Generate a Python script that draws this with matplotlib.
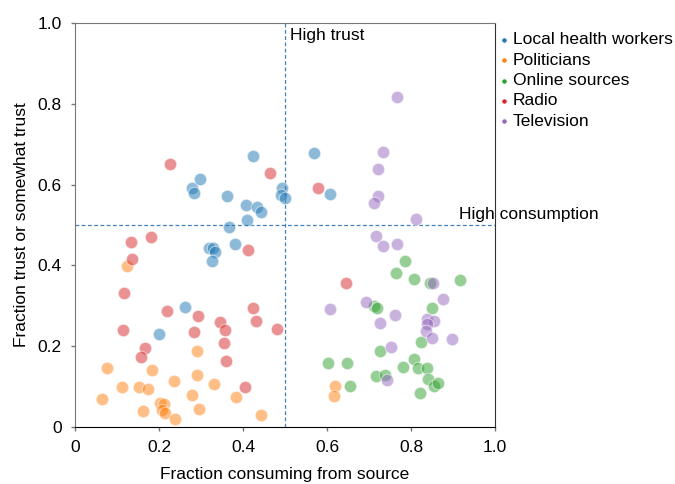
import matplotlib
matplotlib.use("Agg")
import matplotlib.pyplot as plt

plt.rcParams['font.family'] = ['Liberation Sans', 'DejaVu Sans']

categories = ["Local health workers", "Politicians", "Online sources", "Radio", "Television"]
colors = ["#1f77b4", "#ff7f0e", "#2ca02c", "#d62728", "#9467bd"]

health_x = [0.278, 0.284, 0.298, 0.363, 0.367, 0.380, 0.319, 0.328, 0.334, 0.326, 0.423,
            0.570, 0.492, 0.490, 0.500, 0.608, 0.407, 0.434, 0.442, 0.409, 0.261, 0.200]
health_y = [0.591, 0.578, 0.614, 0.572, 0.494, 0.452, 0.444, 0.443, 0.434, 0.412, 0.672,
            0.678, 0.591, 0.574, 0.568, 0.576, 0.550, 0.544, 0.532, 0.513, 0.298, 0.229]

pol_x = [0.124, 0.077, 0.183, 0.291, 0.111, 0.152, 0.174, 0.235, 0.291, 0.330, 0.064, 0.278,
         0.383, 0.202, 0.212, 0.207, 0.215, 0.162, 0.296, 0.239, 0.443, 0.619, 0.617]
pol_y = [0.398, 0.145, 0.141, 0.188, 0.100, 0.100, 0.094, 0.115, 0.128, 0.106, 0.069, 0.079,
         0.073, 0.060, 0.058, 0.042, 0.034, 0.040, 0.044, 0.020, 0.030, 0.101, 0.076]

online_x = [0.786, 0.765, 0.808, 0.846, 0.917, 0.712, 0.719, 0.850, 0.824, 0.727, 0.603, 0.648,
            0.806, 0.781, 0.817, 0.839, 0.716, 0.737, 0.840, 0.856, 0.865, 0.654, 0.821]
online_y = [0.412, 0.382, 0.367, 0.356, 0.364, 0.300, 0.295, 0.294, 0.210, 0.189, 0.159, 0.158,
            0.168, 0.148, 0.145, 0.147, 0.125, 0.129, 0.119, 0.102, 0.109, 0.102, 0.084]

radio_x = [0.226, 0.133, 0.180, 0.135, 0.465, 0.578, 0.411, 0.117, 0.219, 0.294, 0.345, 0.356,
           0.115, 0.284, 0.166, 0.157, 0.355, 0.360, 0.423, 0.432, 0.480, 0.405, 0.645]
radio_y = [0.650, 0.459, 0.471, 0.417, 0.629, 0.592, 0.438, 0.331, 0.288, 0.274, 0.259, 0.241,
           0.241, 0.234, 0.196, 0.174, 0.207, 0.164, 0.295, 0.262, 0.242, 0.100, 0.356]

tv_x = [0.767, 0.733, 0.722, 0.722, 0.711, 0.812, 0.716, 0.733, 0.767, 0.853, 0.877, 0.692,
        0.606, 0.763, 0.727, 0.839, 0.855, 0.838, 0.835, 0.851, 0.897, 0.752, 0.743]
tv_y = [0.816, 0.681, 0.639, 0.572, 0.555, 0.516, 0.472, 0.449, 0.454, 0.356, 0.318, 0.310,
        0.293, 0.276, 0.258, 0.267, 0.262, 0.256, 0.238, 0.221, 0.219, 0.197, 0.116]

series = [(health_x, health_y), (pol_x, pol_y), (online_x, online_y), (radio_x, radio_y), (tv_x, tv_y)]

FS = 12.5

fig = plt.figure(figsize=(6.75, 4.84), dpi=100)
ax = fig.add_axes([0.1111, 0.1178, 0.6222, 0.8347])

for (xs, ys), name, c in zip(series, categories, colors):
    ax.scatter(xs, ys, s=80, color=c, alpha=0.5, edgecolors='white', linewidths=0.8,
               label=name, zorder=3)

ax.axvline(0.5, color='#3f80bd', linestyle=(0, (3, 2)), linewidth=0.9, zorder=2)
ax.axhline(0.5, color='#3f80bd', linestyle=(0, (3, 2)), linewidth=0.9, zorder=2)

ax.text(0.512, 0.988, "High trust", fontsize=FS, va='top', ha='left')
ax.text(0.914, 0.515, "High consumption", fontsize=FS, va='baseline', ha='left', clip_on=False)

ax.set_xlim(0, 1)
ax.set_ylim(0, 1)
ticks = [0, 0.2, 0.4, 0.6, 0.8, 1.0]
ticklabels = ["0", "0.2", "0.4", "0.6", "0.8", "1.0"]
ax.set_xticks(ticks)
ax.set_xticklabels(ticklabels)
ax.set_yticks(ticks)
ax.set_yticklabels(ticklabels)
ax.tick_params(axis='both', labelsize=FS, color='#777777', length=3.2, width=1, pad=6.5)
ax.set_xlabel("Fraction consuming from source", fontsize=FS, labelpad=8)
ax.set_ylabel("Fraction trust or somewhat trust", fontsize=FS, labelpad=6)

ax.spines['left'].set_color('#777777')
ax.spines['top'].set_color('#777777')
ax.spines['right'].set_color('#333333')
ax.spines['bottom'].set_color('#000000')

leg = ax.legend(loc='upper left', bbox_to_anchor=(0.977, 1.003), frameon=False, fontsize=FS,
                markerscale=0.45, handletextpad=0.0, labelspacing=0.3, borderaxespad=0.2,
                handlelength=1.0)
for h in leg.legend_handles:
    h.set_alpha(1)

fig.savefig("out.png", dpi=100)
